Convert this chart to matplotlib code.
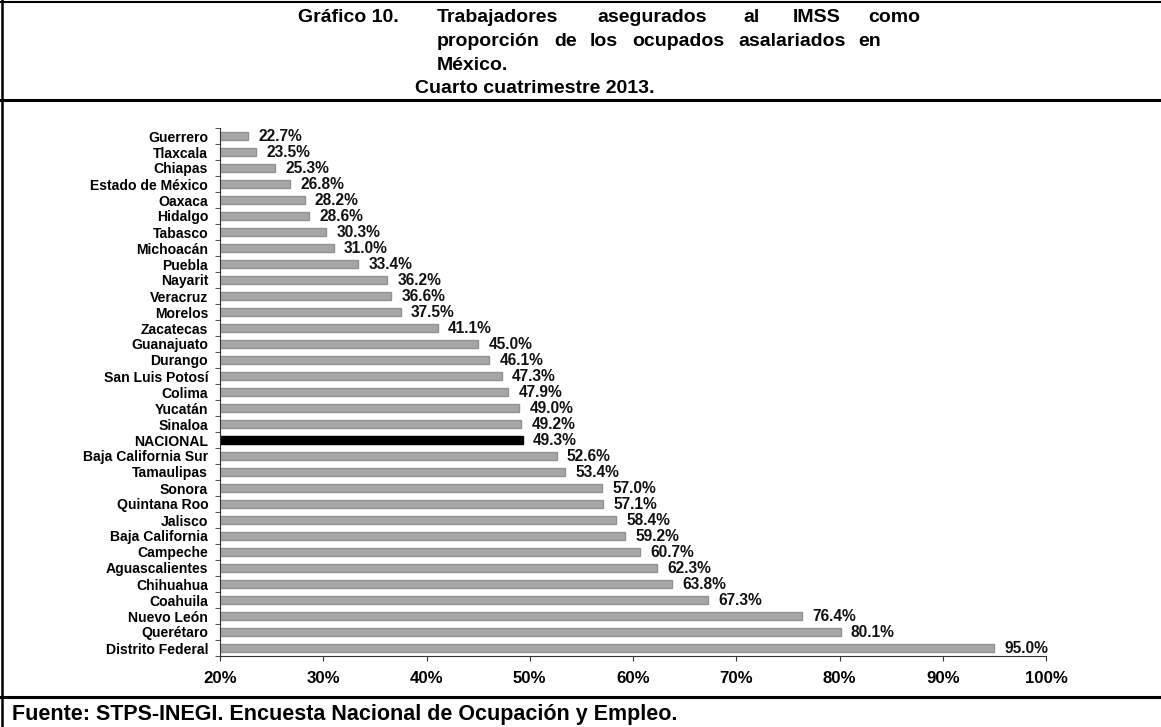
import numpy as np
import matplotlib.pyplot as plt
from matplotlib.lines import Line2D

plt.rcParams['font.family'] = ['Liberation Sans', 'DejaVu Sans']
plt.rcParams['font.weight'] = 'bold'

estados = ["Guerrero", "Tlaxcala", "Chiapas", "Estado de México", "Oaxaca", "Hidalgo",
           "Tabasco", "Michoacán", "Puebla", "Nayarit", "Veracruz", "Morelos", "Zacatecas",
           "Guanajuato", "Durango", "San Luis Potosí", "Colima", "Yucatán", "Sinaloa",
           "NACIONAL", "Baja California Sur", "Tamaulipas", "Sonora", "Quintana Roo",
           "Jalisco", "Baja California", "Campeche", "Aguascalientes", "Chihuahua",
           "Coahuila", "Nuevo León", "Querétaro", "Distrito Federal"]
valores = [22.7, 23.5, 25.3, 26.8, 28.2, 28.6, 30.3, 31.0, 33.4, 36.2, 36.6, 37.5, 41.1,
           45.0, 46.1, 47.3, 47.9, 49.0, 49.2, 49.3, 52.6, 53.4, 57.0, 57.1, 58.4, 59.2,
           60.7, 62.3, 63.8, 67.3, 76.4, 80.1, 95.0]
xticks = [20, 30, 40, 50, 60, 70, 80, 90, 100]

W, H = 1161, 727
fig = plt.figure(figsize=(W / 100, H / 100), dpi=100)
ax = fig.add_axes([220 / W, (H - 656) / H, (1046 - 220) / W, (656 - 128) / H])

y = np.arange(len(estados))
colores = ['black' if e == "NACIONAL" else '#a6a6a6' for e in estados]
bordes = ['black' if e == "NACIONAL" else '#939393' for e in estados]
ax.barh(y, [v - 20 for v in valores], left=20, height=0.53, color=colores,
        edgecolor=bordes, linewidth=1.0)

for yi, v in zip(y, valores):
    ax.text(v + 1.0, yi + 0.04, f"{v:.1f}%", va='center', ha='left',
            fontsize=11.2, fontweight='bold', color='#111111')

ax.set_xlim(20, 100)
ax.set_ylim(len(estados) - 0.5, -0.5)
ax.set_yticks(y)
ax.set_yticklabels(estados, fontsize=10.1, fontweight='bold')
ax.tick_params(axis='y', which='major', length=0, pad=8.5)
ax.set_yticks(np.arange(-0.5, len(estados)), minor=True)
ax.tick_params(axis='y', which='minor', length=3.5, color='#333333')
ax.set_xticks(xticks)
ax.set_xticklabels([f"{t}%" for t in xticks], fontsize=12.1, fontweight='bold')
ax.tick_params(axis='x', length=3.5, pad=7.5, color='#333333')
for s in ['top', 'right']:
    ax.spines[s].set_visible(False)
ax.spines['left'].set_color('#333333')
ax.spines['bottom'].set_color('#333333')

# marco del cuadro
def hline(yp, lw):
    fig.add_artist(Line2D([0, 1], [1 - yp / H, 1 - yp / H], color='black', lw=lw,
                          transform=fig.transFigure))
hline(1.5, 1.5)
hline(100, 2.2)
hline(697, 2.2)
fig.add_artist(Line2D([2 / W, 2 / W], [0, 1], color='black', lw=1.8,
                      transform=fig.transFigure))

# titulo justificado
linea1 = [("Gráfico 10.", 298), ("Trabajadores", 437), ("asegurados", 597),
          ("al", 743), ("IMSS", 793), ("como", 868)]
linea2 = [("proporción", 437), ("de", 554), ("los", 590), ("ocupados", 632),
          ("asalariados", 738), ("en", 858)]
for palabras, yp in [(linea1, 22), (linea2, 46)]:
    for p, xp in palabras:
        fig.text(xp / W, 1 - yp / H, p, fontsize=14, fontweight='bold', va='baseline')
fig.text(437 / W, 1 - 70 / H, "México.", fontsize=14, fontweight='bold', va='baseline')
fig.text(415 / W, 1 - 93 / H, "Cuarto cuatrimestre 2013.", fontsize=14,
         fontweight='bold', va='baseline')

fig.text(12 / W, 1 - 720 / H, "Fuente: STPS-INEGI. Encuesta Nacional de Ocupación y Empleo.",
         fontsize=15.5, fontweight='bold', va='baseline')

fig.savefig('out.png', dpi=100)
